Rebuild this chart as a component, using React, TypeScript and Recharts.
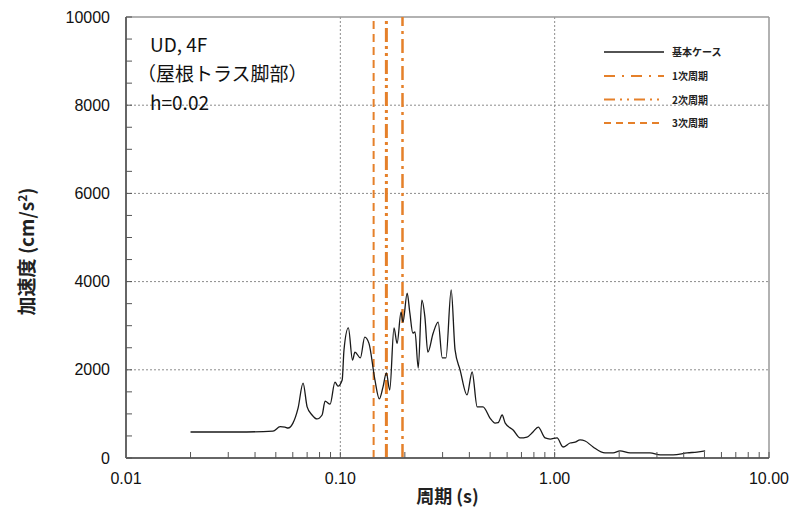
import { CartesianGrid, Label, Line, LineChart, ReferenceLine, XAxis, YAxis } from "recharts";

// response spectrum, UD 4F (roof truss base), h=0.02
const periods = [
  0.02, 0.033, 0.0485, 0.0524, 0.0552, 0.057, 0.0601, 0.0635, 0.067, 0.07, 0.0738, 0.0778, 0.0822,
  0.0849, 0.0896, 0.0944, 0.0975, 0.102, 0.104, 0.109, 0.114, 0.117, 0.124, 0.13, 0.136, 0.145,
  0.152, 0.158, 0.164, 0.17, 0.178, 0.184, 0.192, 0.196, 0.205, 0.211, 0.218, 0.223, 0.231, 0.24,
  0.248, 0.256, 0.271, 0.286, 0.299, 0.311, 0.329, 0.343, 0.362, 0.39, 0.412, 0.435, 0.463, 0.5,
  0.527, 0.545, 0.569, 0.588, 0.64, 0.69, 0.743, 0.792, 0.838, 0.902, 0.953, 1.026, 1.094, 1.18,
  1.245, 1.314, 1.387, 1.511, 1.718, 1.874, 2.018, 2.249, 2.786, 3.105, 3.573, 4.15, 4.613, 5.035,
];
const accel = [
  590, 590, 610, 710, 700, 680, 790, 1130, 1700, 1160, 975, 885, 975,
  1290, 1220, 1720, 1630, 1770, 2450, 2950, 2220, 2400, 2270, 2740, 2600, 1770,
  1340, 1600, 1930, 1540, 2950, 2600, 3310, 3080, 3740, 3290, 2830, 2860, 2040, 3580,
  3200, 2400, 2830, 3080, 2270, 2270, 3810, 2450, 2000, 1430, 1950, 1160, 1160, 900,
  790, 800, 975, 790, 635, 455, 475, 590, 700, 455, 430, 455, 250, 340,
  360, 410, 385, 250, 115, 115, 160, 115, 115, 70, 70, 115, 135, 160,
];

const modeNames = ["1次周期", "2次周期", "3次周期"];
const modePeriods = [0.195, 0.164, 0.143];
const modeDash = ["14 5 3 5", "14 4 3 4 3 4", "8 5"];
const modeWidth = [2.5, 3, 2];

const xMajor = [0.01, 0.1, 1, 10];
const yMajor = [0, 2000, 4000, 6000, 8000, 10000];

const xTicks: number[] = [];
for (const d of [0.01, 0.1, 1]) {
  for (let m = 1; m < 10; m++) xTicks.push(Number((m * d).toPrecision(3)));
}
xTicks.push(10);
const yTicks: number[] = [];
for (let v = 0; v <= 10000; v += 500) yTicks.push(v);

const data = periods.map((t, i) => ({ t, a: accel[i] }));

const ORANGE = "#E5802A";
const FONT = "'Liberation Sans', 'Noto Sans CJK JP', sans-serif";
const JP = "'Noto Sans CJK JP', 'Liberation Sans', sans-serif";

export default function App() {
  return (
    <div style={{ position: "absolute", left: 0, top: 0, width: 795, height: 510, background: "#fff" }}>
      <LineChart width={795} height={510} data={data} margin={{ top: 17, right: 26, bottom: 0, left: 0 }}>
        <CartesianGrid
          horizontal
          vertical
          horizontalValues={[2000, 4000, 6000, 8000]}
          verticalValues={[0.1, 1]}
          stroke="#8c8c8c"
          strokeDasharray="2 2"
        />
        <XAxis
          dataKey="t"
          type="number"
          scale="log"
          domain={[0.01, 10]}
          ticks={xTicks}
          interval={0}
          allowDataOverflow
          height={52}
          tickSize={-6}
          tickMargin={21}
          axisLine={{ stroke: "#666", strokeWidth: 2 }}
          tickLine={{ stroke: "#555" }}
          tick={{ fill: "#111", fontSize: 16, fontFamily: FONT }}
          tickFormatter={(v: number) => (xMajor.includes(v) ? v.toFixed(2) : "")}
        >
          <Label
            content={({ viewBox }: any) => (
              <text
                x={viewBox.x + viewBox.width / 2}
                y={viewBox.y + 45}
                textAnchor="middle"
                fontSize={18}
                fontFamily={JP}
                fontWeight={700}
                fill="#222"
              >
                周期 (s)
              </text>
            )}
          />
        </XAxis>
        <YAxis
          type="number"
          domain={[0, 10000]}
          ticks={yTicks}
          interval={0}
          width={126}
          tickSize={-6}
          tickMargin={22}
          axisLine={{ stroke: "#666", strokeWidth: 2 }}
          tickLine={{ stroke: "#555" }}
          tick={{ fill: "#111", fontSize: 16, fontFamily: FONT }}
          tickFormatter={(v: number) => (yMajor.includes(v) ? String(v) : "")}
        >
          <Label
            content={({ viewBox }: any) => {
              const cx = 34;
              const cy = viewBox.y + viewBox.height / 2 + 14;
              return (
                <text
                  x={cx}
                  y={cy}
                  transform={`rotate(-90 ${cx} ${cy})`}
                  textAnchor="middle"
                  fontSize={19}
                  fontFamily={JP}
                  fontWeight={700}
                  fill="#222"
                >
                  加速度 (cm/s<tspan dy={-7} fontSize={12}>2</tspan>
                  <tspan dy={7}>)</tspan>
                </text>
              );
            }}
          />
        </YAxis>
        <ReferenceLine y={10000} stroke="#999" strokeWidth={1.5} />
        <ReferenceLine x={10} stroke="#999" strokeWidth={1.5} />
        {modePeriods.map((p, i) => (
          <ReferenceLine
            key={modeNames[i]}
            x={p}
            stroke={ORANGE}
            strokeWidth={modeWidth[i]}
            strokeDasharray={modeDash[i]}
          />
        ))}
        <Line
          type="monotone"
          dataKey="a"
          stroke="#1a1a1a"
          strokeWidth={1.3}
          dot={false}
          isAnimationActive={false}
        />
      </LineChart>

      <div
        style={{
          position: "absolute",
          left: 137,
          top: 29,
          fontFamily: JP,
          fontSize: 19,
          lineHeight: "29px",
          color: "#111",
        }}
      >
        <div style={{ paddingLeft: 13 }}>UD, 4F</div>
        <div>（屋根トラス脚部）</div>
        <div style={{ paddingLeft: 13 }}>h=0.02</div>
      </div>

      <svg style={{ position: "absolute", left: 600, top: 40 }} width={160} height={100}>
        <line x1={4} x2={64} y1={12} y2={12} stroke="#1a1a1a" strokeWidth={1.3} />
        <text x={72} y={16} fontSize={10} fontWeight={700} fontFamily={JP} fill="#222">
          基本ケース
        </text>
        {modeNames.map((n, i) => {
          const y = 36 + i * 23.5;
          return (
            <g key={n}>
              <line
                x1={4}
                x2={64}
                y1={y}
                y2={y}
                stroke={ORANGE}
                strokeWidth={2}
                strokeDasharray={i === 0 ? "11 7 2 7" : i === 1 ? "11 5 2 5 2 5" : "7 5"}
              />
              <text x={72} y={y + 4} fontSize={10} fontWeight={700} fontFamily={JP} fill="#222">
                {n}
              </text>
            </g>
          );
        })}
      </svg>
    </div>
  );
}
